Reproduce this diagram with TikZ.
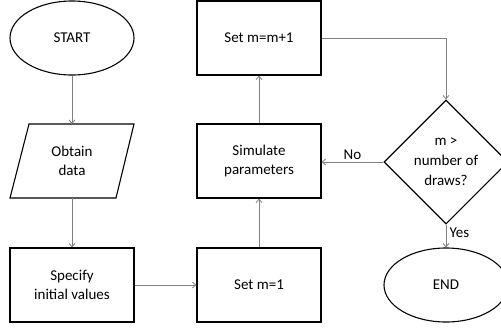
\documentclass[tikz,border=0pt]{standalone}
\usepackage{fontspec}
\setmainfont{Carlito}
\usetikzlibrary{shapes.geometric,arrows.meta}
\begin{document}
\begin{tikzpicture}[x=1pt,y=-1pt,
  every node/.style={font=\fontsize{15}{19}\selectfont, align=center},
  shp/.style={draw=black, line width=1.1pt, inner sep=0pt},
  boxnode/.style={shp, rectangle, minimum width=124pt, minimum height=74pt},
  ovalnode/.style={shp, ellipse, minimum width=124pt, minimum height=74pt},
  conn/.style={draw=black!50, line width=0.8pt, -{Straight Barb[length=3.5pt,width=6pt]}},
  lbl/.style={font=\fontsize{15}{17}\selectfont}
]
\useasboundingbox (0,0) rectangle (501,327);
\node[ovalnode] (start) at (72,38) {START};
\coordinate (p1) at (29,124);
\coordinate (p2) at (134,124);
\coordinate (p3) at (116,198);
\coordinate (p4) at (10,198);
\draw[black, line width=1.1pt, line join=miter] (p1) -- (p2) -- (p3) -- (p4) -- cycle;
\node[inner sep=0pt, minimum width=90pt, minimum height=74pt] (obtain) at (72,161) {Obtain\\data};
\node[boxnode] (spec) at (72,285) {Specify\\initial values};
\node[boxnode] (set1) at (259,285) {Set m=1};
\node[boxnode] (sim) at (259,161) {Simulate\\parameters};
\node[boxnode] (inc) at (259,38) {Set m=m+1};
\node[shp, diamond, minimum width=124pt, minimum height=124pt, font=\fontsize{15}{20}\selectfont] (dec) at (446,162) {m >\\number of\\draws?};
\node[ovalnode] (end) at (446,285) {END};
\draw[conn] (start.south) -- (72,124);
\draw[conn] (72,198) -- (spec.north);
\draw[conn] (spec.east) -- (set1.west);
\draw[conn] (set1.north) -- (sim.south);
\draw[conn] (sim.north) -- (inc.north |- inc.south);
\draw[conn] (inc.east) -| (dec.north);
\draw[conn] (dec.west) -- node[lbl, above=-1pt] {No} (sim.east |- dec.west);
\draw[conn] (dec.south) -- node[lbl, right=0pt, pos=0.35] {Yes} (end.north);
\end{tikzpicture}
\end{document}
